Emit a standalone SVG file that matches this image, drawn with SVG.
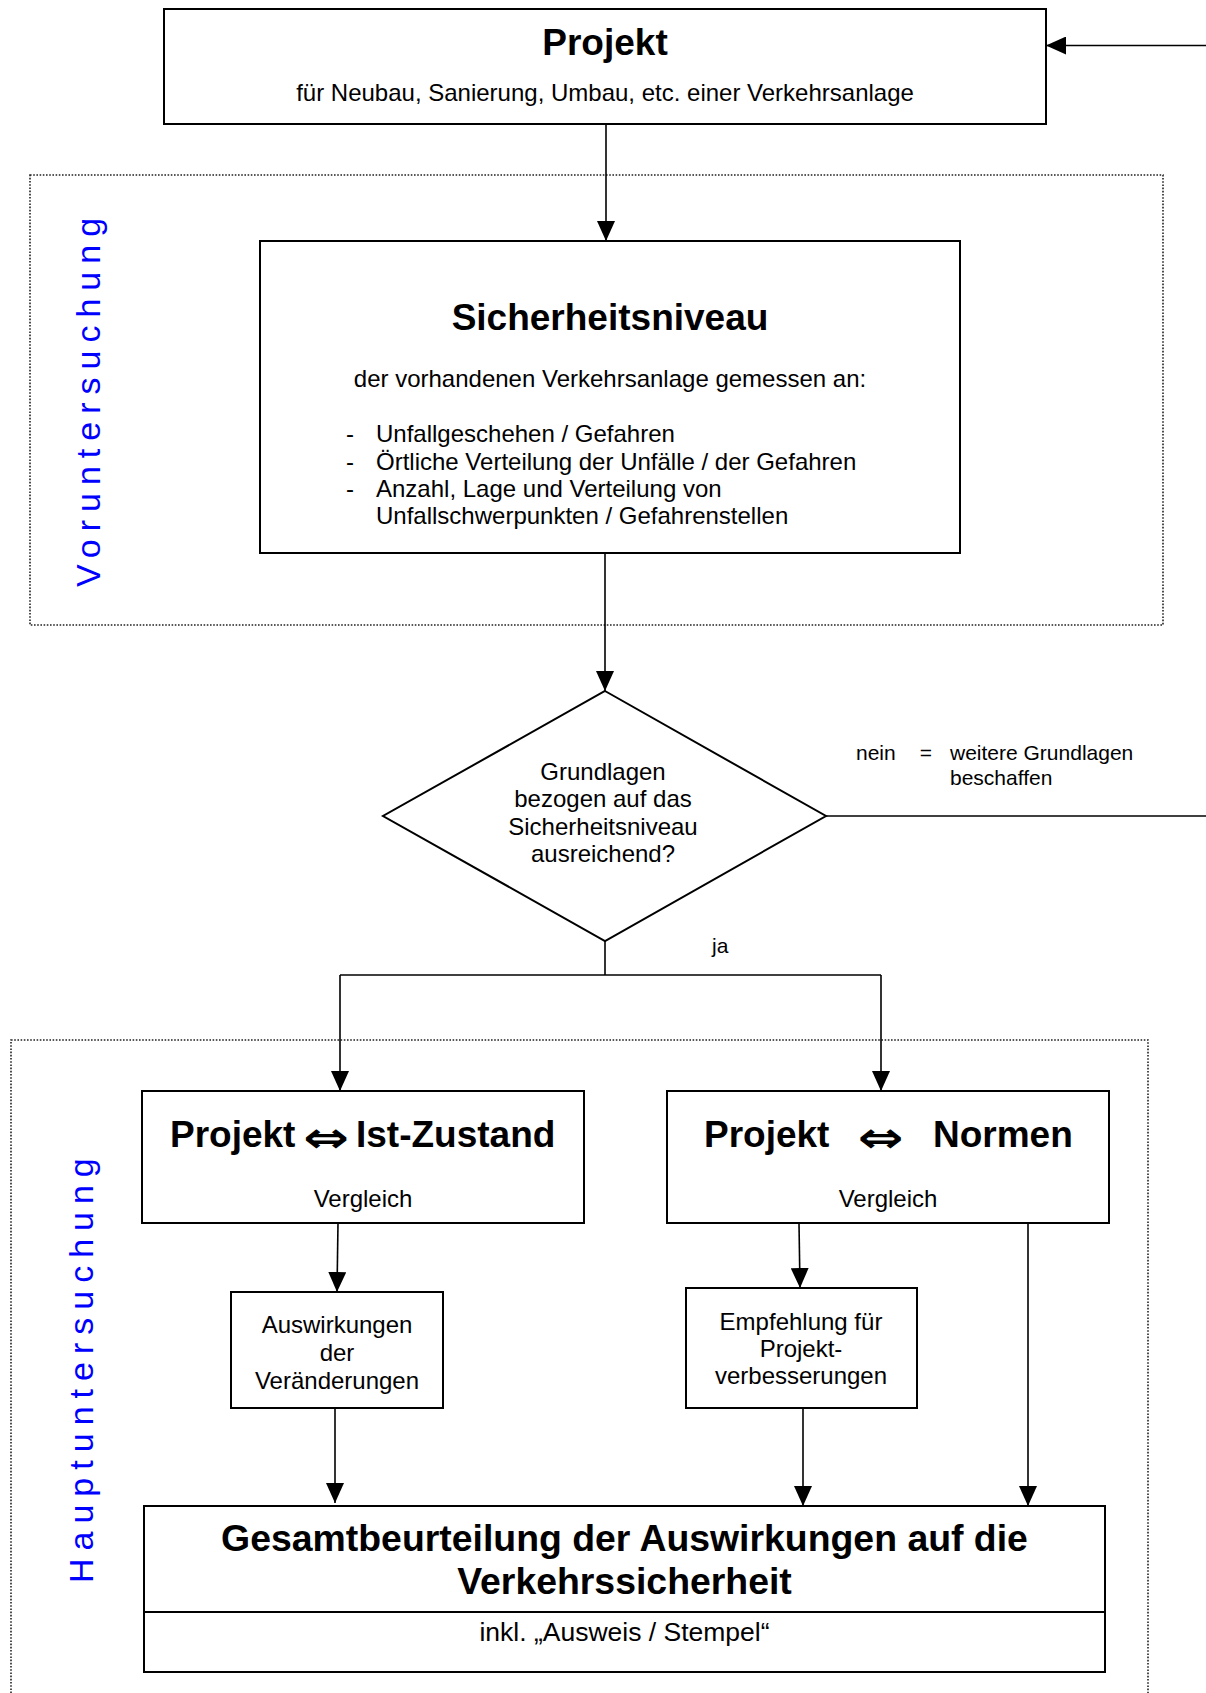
<svg xmlns="http://www.w3.org/2000/svg" width="1206" height="1693" viewBox="0 0 1206 1693">
<defs>
<style>
.box{fill:#fff;stroke:#000;stroke-width:2}
.zone{fill:none;stroke:#222;stroke-width:1.6;stroke-dasharray:1.6 1.6}
.con{fill:none;stroke:#000;stroke-width:1.6}
.t{font-family:"Liberation Sans",Arial,"DejaVu Sans",sans-serif;fill:#000}
.b{font-weight:bold;font-size:37px}
.r{font-size:24px}
.s{font-size:21px}
.m{text-anchor:middle}
.arr{font-family:"DejaVu Sans",sans-serif;font-weight:bold;font-size:42px;text-anchor:middle;fill:#000}
.vl{font-family:"Liberation Sans",Arial,sans-serif;font-size:34px;fill:#0000ff;letter-spacing:8px}
</style>
<marker id="ah" markerUnits="userSpaceOnUse" markerWidth="20" markerHeight="18" refX="20" refY="9" orient="auto">
<path d="M0,0 L20,9 L0,18 z" fill="#000"/>
</marker>
</defs>
<rect width="1206" height="1693" fill="#fff"/>

<g id="zone-vor">
<rect class="zone" x="30" y="175" width="1133" height="450"/>
<text class="vl" x="100" y="587" transform="rotate(-90 100 587)">Voruntersuchung</text>
</g>
<g id="zone-haupt">
<rect class="zone" x="11" y="1040" width="1137" height="700"/>
<text class="vl" x="93" y="1583" transform="rotate(-90 93 1583)">Hauptuntersuchung</text>
</g>

<g id="connectors">
<line class="con" x1="1206" y1="45.5" x2="1046" y2="45.5" marker-end="url(#ah)"/>
<line class="con" x1="606" y1="124" x2="606" y2="241" marker-end="url(#ah)"/>
<line class="con" x1="605" y1="553" x2="605" y2="691" marker-end="url(#ah)"/>
<line class="con" x1="826" y1="816" x2="1206" y2="816"/>
<polyline class="con" points="605,941 605,975"/>
<polyline class="con" points="340,975 881,975"/>
<line class="con" x1="340" y1="975" x2="340" y2="1091" marker-end="url(#ah)"/>
<line class="con" x1="881" y1="975" x2="881" y2="1091" marker-end="url(#ah)"/>
<line class="con" x1="338" y1="1223" x2="337" y2="1292" marker-end="url(#ah)"/>
<line class="con" x1="799" y1="1223" x2="800" y2="1288" marker-end="url(#ah)"/>
<line class="con" x1="335" y1="1408" x2="335" y2="1503" marker-end="url(#ah)"/>
<line class="con" x1="803" y1="1408" x2="803" y2="1506" marker-end="url(#ah)"/>
<line class="con" x1="1028" y1="1223" x2="1028" y2="1506" marker-end="url(#ah)"/>
</g>

<g id="projekt">
<rect class="box" x="164" y="9" width="882" height="115"/>
<text class="t b m" x="605" y="55">Projekt</text>
<text class="t r m" x="605" y="101">für Neubau, Sanierung, Umbau, etc. einer Verkehrsanlage</text>
</g>

<g id="sicherheitsniveau">
<rect class="box" x="260" y="241" width="700" height="312"/>
<text class="t b m" x="610" y="330">Sicherheitsniveau</text>
<text class="t r m" x="610" y="387">der vorhandenen Verkehrsanlage gemessen an:</text>
<text class="t r" x="346" y="442">-</text>
<text class="t r" x="376" y="442">Unfallgeschehen / Gefahren</text>
<text class="t r" x="346" y="470">-</text>
<text class="t r" x="376" y="470">Örtliche Verteilung der Unfälle / der Gefahren</text>
<text class="t r" x="346" y="497">-</text>
<text class="t r" x="376" y="497">Anzahl, Lage und Verteilung von</text>
<text class="t r" x="376" y="524">Unfallschwerpunkten / Gefahrenstellen</text>
</g>

<g id="entscheidung">
<polygon class="box" points="605,691 826,816 605,941 383,816"/>
<text class="t r m" x="603" y="780">Grundlagen</text>
<text class="t r m" x="603" y="807">bezogen auf das</text>
<text class="t r m" x="603" y="835">Sicherheitsniveau</text>
<text class="t r m" x="603" y="862">ausreichend?</text>
</g>

<g id="label-nein">
<text class="t s" x="856" y="760">nein</text>
<text class="t s m" x="926" y="760">=</text>
<text class="t s" x="950" y="760">weitere Grundlagen</text>
<text class="t s" x="950" y="785">beschaffen</text>
</g>
<g id="label-ja">
<text class="t s" x="712" y="953">ja</text>
</g>

<g id="ist-zustand">
<rect class="box" x="142" y="1091" width="442" height="132"/>
<text class="t b" x="170" y="1147">Projekt</text>
<text class="arr" transform="translate(326 1152) scale(1.3 1)">⇔</text>
<text class="t b" x="356" y="1147">Ist-Zustand</text>
<text class="t r m" x="363" y="1207">Vergleich</text>
</g>

<g id="normen">
<rect class="box" x="667" y="1091" width="442" height="132"/>
<text class="t b" x="704" y="1147">Projekt</text>
<text class="arr" transform="translate(880.5 1152) scale(1.3 1)">⇔</text>
<text class="t b" x="933" y="1147">Normen</text>
<text class="t r m" x="888" y="1207">Vergleich</text>
</g>

<g id="auswirkungen">
<rect class="box" x="231" y="1292" width="212" height="116"/>
<text class="t r m" x="337" y="1333">Auswirkungen</text>
<text class="t r m" x="337" y="1361">der</text>
<text class="t r m" x="337" y="1389">Veränderungen</text>
</g>

<g id="empfehlung">
<rect class="box" x="686" y="1288" width="231" height="120"/>
<text class="t r m" x="801" y="1330">Empfehlung für</text>
<text class="t r m" x="801" y="1357">Projekt-</text>
<text class="t r m" x="801" y="1384">verbesserungen</text>
</g>

<g id="gesamtbeurteilung">
<rect class="box" x="144" y="1506" width="961" height="166"/>
<line x1="144" y1="1612" x2="1105" y2="1612" stroke="#000" stroke-width="2"/>
<text class="t b m" x="624.5" y="1551" style="font-size:37.4px">Gesamtbeurteilung der Auswirkungen auf die</text>
<text class="t b m" x="624.5" y="1594" style="font-size:37.4px">Verkehrssicherheit</text>
<text class="t r m" x="624.5" y="1641" style="font-size:26.5px">inkl. „Ausweis / Stempel“</text>
</g>
</svg>
